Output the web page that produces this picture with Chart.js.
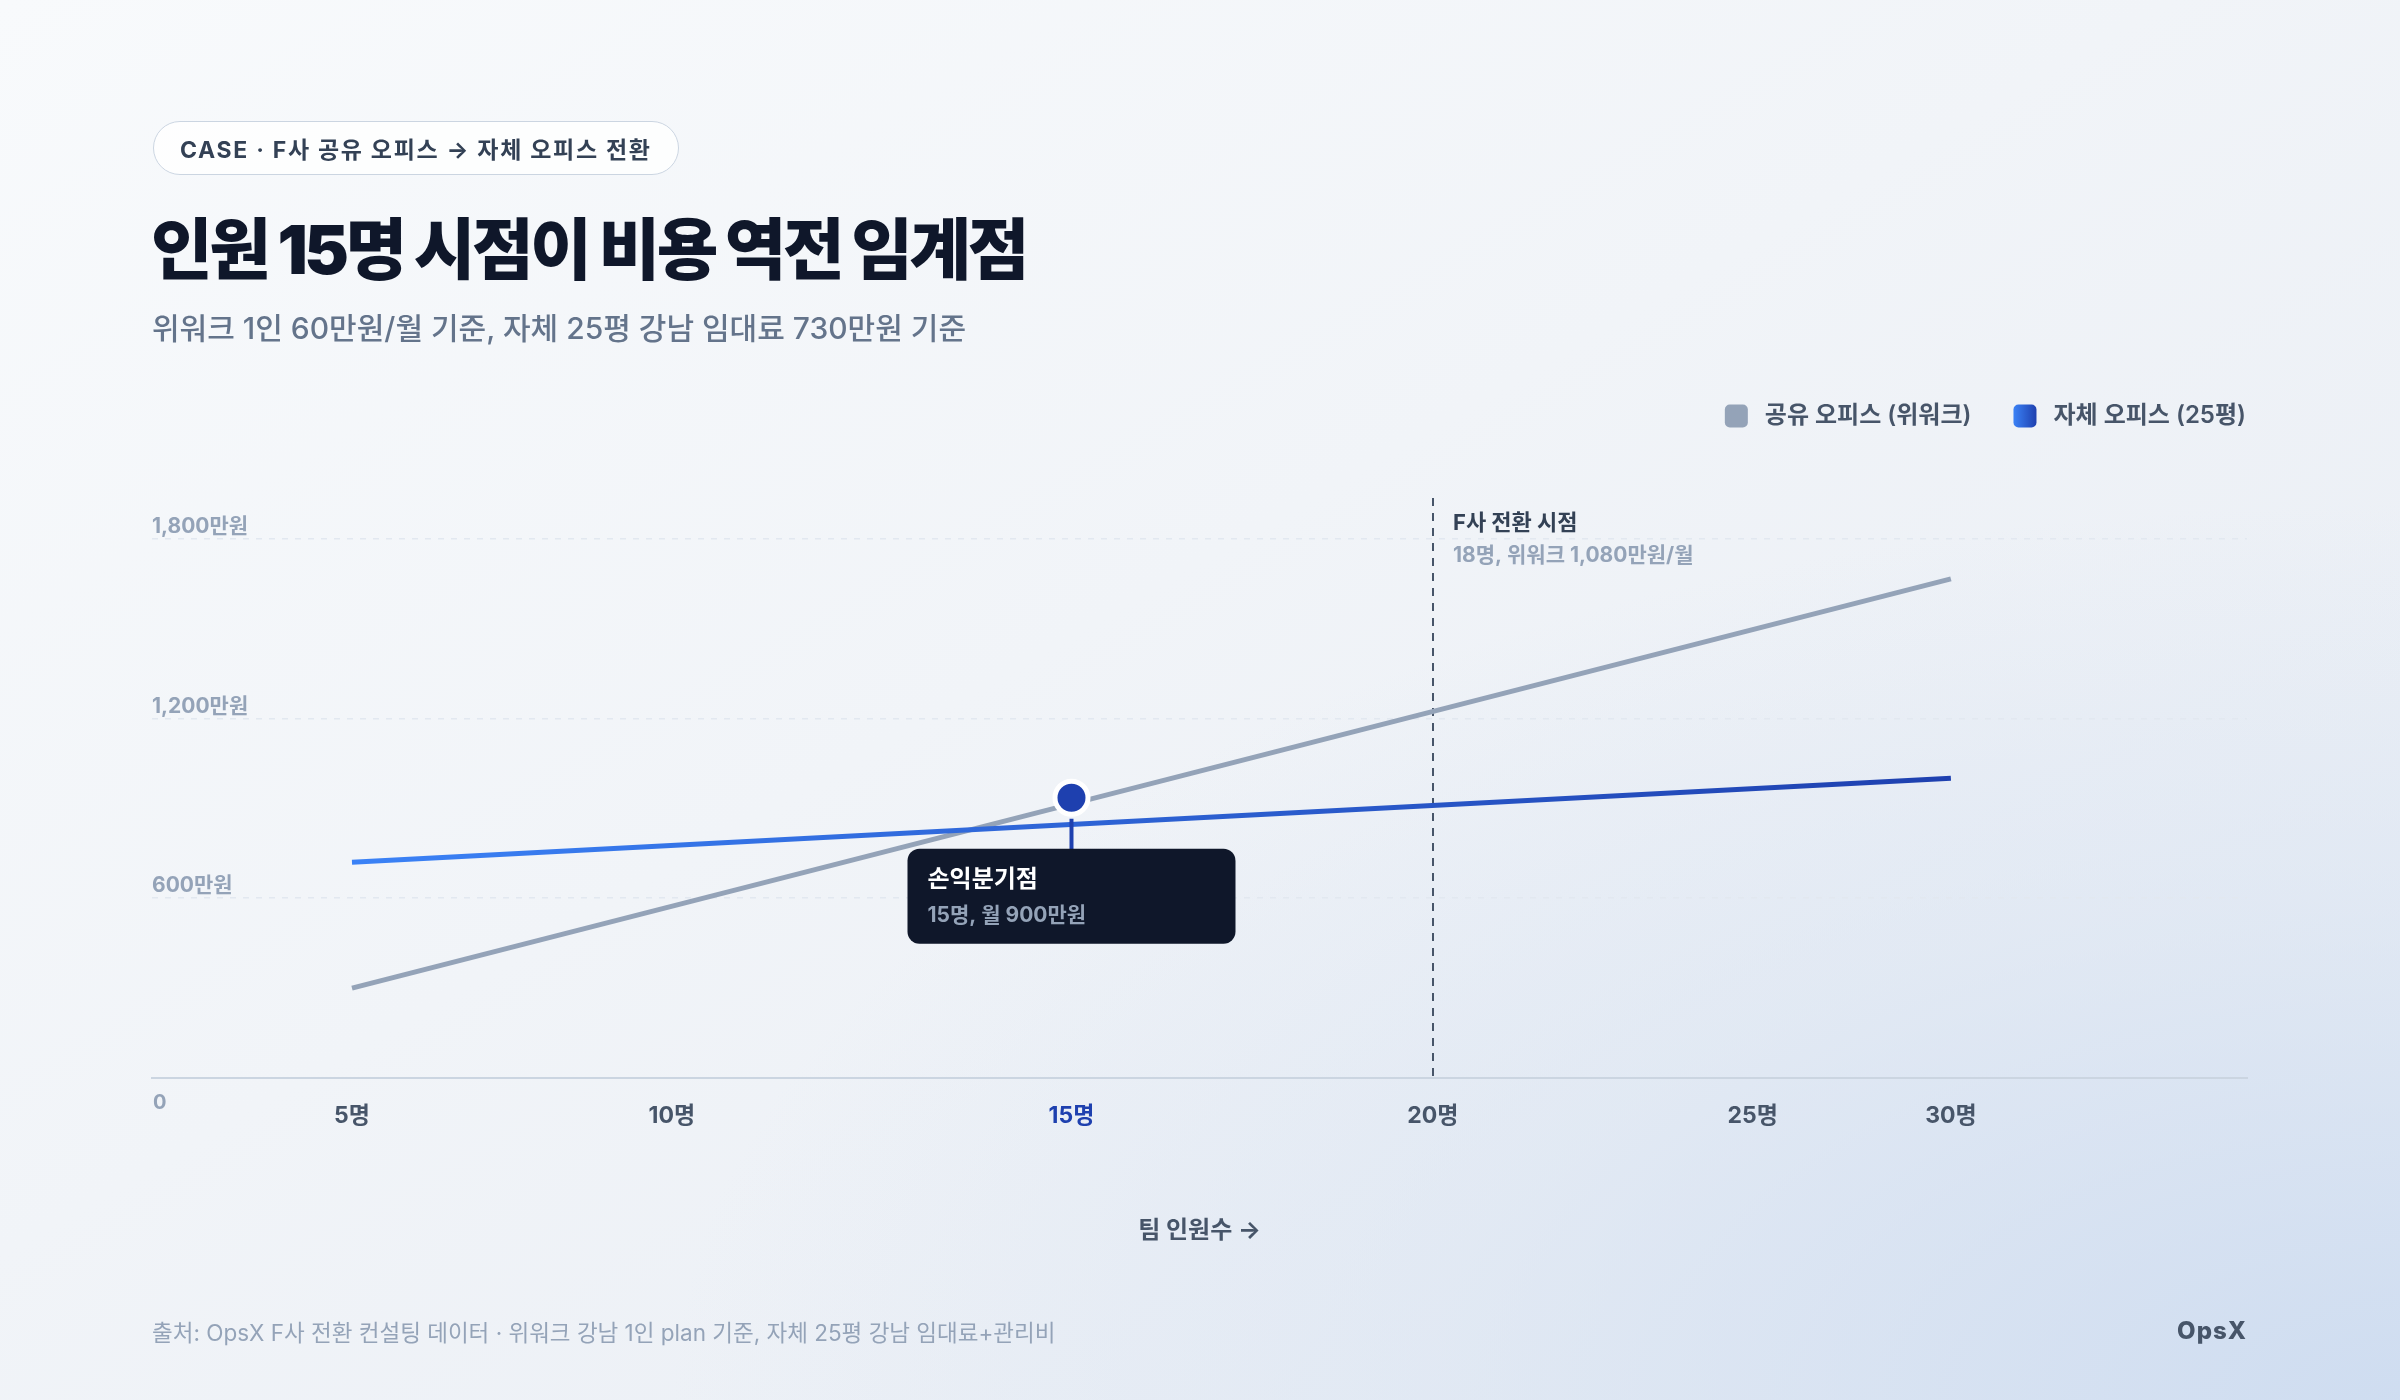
<!DOCTYPE html>
<html lang="ko">
<head>
<meta charset="utf-8">
<script src="https://cdn.jsdelivr.net/npm/chart.js@4.4.1/dist/chart.umd.min.js"></script>
<style>
  html, body { margin: 0; padding: 0; width: 2400px; height: 1400px; overflow: hidden; }
  body {
    position: relative;
    font-family: Inter, "Noto Sans CJK KR", sans-serif;
    background:
      radial-gradient(ellipse 90% 80% at 100% 100%, rgba(204,219,240,0.9) 0%, rgba(216,227,242,0.5) 45%, rgba(230,236,245,0) 80%),
      linear-gradient(150deg, #f8fafc 0%, #f1f4f8 45%, #e6ebf3 100%);
  }
  #chart { position: absolute; left: 0; top: 0; width: 2400px; height: 1400px; }
  .pill {
    position: absolute; left: 153px; top: 121px; height: 54px; box-sizing: border-box;
    padding: 0 26px; border: 1.5px solid #cbd5e1; border-radius: 27px;
    background: rgba(255,255,255,0.8); display: flex; align-items: center;
    font-size: 23px; font-weight: 700; color: #334155; letter-spacing: 1.7px; white-space: nowrap;
  }
  h1 {
    position: absolute; left: 151px; top: 216px; margin: 0; line-height: 1;
    font-size: 67px; font-weight: 900; color: #0f172a; letter-spacing: -3.4px; white-space: nowrap;
  }
  .sub {
    position: absolute; left: 152px; top: 313px; font-size: 30px; font-weight: 500;
    color: #64748b; white-space: nowrap; line-height: 1;
  }
  .foot {
    position: absolute; left: 152px; top: 1319px; font-size: 22.5px; color: #94a3b8;
    white-space: nowrap; line-height: 1.2;
  }
  .brand {
    position: absolute; right: 153px; top: 1317px; font-size: 24px; font-weight: 800;
    color: #475569; letter-spacing: 1px; line-height: 1.2;
  }
</style>
</head>
<body>
<canvas id="chart" width="2400" height="1400"></canvas>
<div class="pill">CASE · F사 공유 오피스 → 자체 오피스 전환</div>
<h1>인원 15명 시점이 비용 역전 임계점</h1>
<div class="sub">위워크 1인 60만원/월 기준, 자체 25평 강남 임대료 730만원 기준</div>
<div class="foot">출처: OpsX F사 전환 컨설팅 데이터 · 위워크 강남 1인 plan 기준, 자체 25평 강남 임대료+관리비</div>
<div class="brand">OpsX</div>
<script>
// ---- data ----
const seriesNames = ['공유 오피스 (위워크)', '자체 오피스 (25평)'];
const headcount = [5, 30];                       // line endpoints (명)
const sharedOfficeCost = [300, 1665];            // 만원/월
const ownOfficeCost = [720, 1000];               // 만원/월
const xTickValues = [5, 10, 16.25, 21.9, 26.9, 30];
const xTickLabels = ['5명', '10명', '15명', '20명', '25명', '30명'];
const yTickValues = [0, 600, 1200, 1800];
const yTickLabels = ['0', '600만원', '1,200만원', '1,800만원'];
const breakEvenPoint = [16.25, 935];
const breakEvenText = ['손익분기점', '15명, 월 900만원'];
const switchX = 21.9;
const switchText = ['F사 전환 시점', '18명, 위워크 1,080만원/월'];
const xAxisTitle = '팀 인원수 →';

const FONT = 'Inter, "Noto Sans CJK KR", sans-serif';
Chart.defaults.font.family = FONT;

function blueGradient(context) {
  const chart = context.chart;
  const { ctx, chartArea, scales } = chart;
  if (!chartArea) return '#2563eb';
  const x0 = scales.x.getPixelForValue(headcount[0]);
  const x1 = scales.x.getPixelForValue(headcount[headcount.length - 1]);
  const g = ctx.createLinearGradient(x0, 0, x1, 0);
  g.addColorStop(0, '#3b82f6');
  g.addColorStop(1, '#1e40af');
  return g;
}

const LEGEND_SHIFT = 41;
const SWATCH = 23;

const layoutTweaks = {
  id: 'layoutTweaks',
  afterInit(chart) {
    const lg = chart.legend;
    const fit = lg.fit;
    lg.fit = function () { fit.call(this); this.height = 136; };
    const draw = lg.draw;
    lg.draw = function () {
      const c = this.ctx;
      c.save(); c.translate(LEGEND_SHIFT, 0); draw.call(this);
      const lo = this.options.labels;
      this.legendHitBoxes.forEach((hb, i) => {
        const top = hb.top + Math.max((lo.font.size - SWATCH) / 2, 0);
        let fill = '#94a3b8';
        if (i === 1) {
          fill = c.createLinearGradient(hb.left, 0, hb.left + SWATCH, 0);
          fill.addColorStop(0, '#3b82f6'); fill.addColorStop(1, '#1e40af');
        }
        c.fillStyle = fill;
        c.beginPath(); c.roundRect(hb.left, top, SWATCH, SWATCH, 5); c.fill();
      });
      c.restore();
    };
  }
};

const annotations = {
  id: 'annotations',
  beforeDatasetsDraw(chart) {
    const { ctx, chartArea, scales } = chart;
    const x = Math.round(scales.x.getPixelForValue(switchX));
    ctx.save();
    ctx.strokeStyle = '#475569';
    ctx.lineWidth = 2;
    ctx.setLineDash([8, 7]);
    ctx.beginPath(); ctx.moveTo(x, chartArea.top); ctx.lineTo(x, chartArea.bottom); ctx.stroke();
    ctx.setLineDash([]);
    ctx.textAlign = 'left'; ctx.textBaseline = 'middle';
    ctx.fillStyle = '#334155';
    ctx.font = '700 22px ' + FONT;
    ctx.fillText(switchText[0], x + 20, chartArea.top + 25);
    ctx.fillStyle = '#94a3b8';
    ctx.font = '700 21px ' + FONT;
    ctx.fillText(switchText[1], x + 20, chartArea.top + 58);
    ctx.restore();
  },
  afterDatasetsDraw(chart) {
    const { ctx, scales, chartArea } = chart;
    const px = scales.x.getPixelForValue(breakEvenPoint[0]);
    const py = scales.y.getPixelForValue(breakEvenPoint[1]);
    ctx.save();
    ctx.strokeStyle = '#1e40af'; ctx.lineWidth = 4;
    ctx.beginPath(); ctx.moveTo(px, py + 21); ctx.lineTo(px, py + 52); ctx.stroke();
    const bx = px - 164, by = py + 51, bw = 328, bh = 95;
    ctx.fillStyle = '#0f172a';
    ctx.beginPath(); ctx.roundRect(bx, by, bw, bh, 12); ctx.fill();
    ctx.textAlign = 'left'; ctx.textBaseline = 'middle';
    ctx.fillStyle = '#ffffff'; ctx.font = '700 24px ' + FONT;
    ctx.fillText(breakEvenText[0], bx + 20, by + 31);
    ctx.fillStyle = '#94a3b8'; ctx.font = '700 21px ' + FONT;
    ctx.fillText(breakEvenText[1], bx + 20, by + 67);
    ctx.fillStyle = '#94a3b8'; ctx.font = '700 20px ' + FONT;
    ctx.fillText(yTickLabels[0], chartArea.left + 1, chartArea.bottom + 25);
    ctx.restore();
  }
};

new Chart(document.getElementById('chart'), {
  type: 'line',
  data: {
    datasets: [
      {
        label: 'break-even',
        data: [{ x: breakEvenPoint[0], y: breakEvenPoint[1] }],
        showLine: false,
        pointRadius: 16.5,
        pointHoverRadius: 16.5,
        pointBackgroundColor: '#1e40af',
        pointBorderColor: '#ffffff',
        pointBorderWidth: 5,
        order: 0
      },
      {
        label: seriesNames[0],
        data: headcount.map((h, i) => ({ x: h, y: sharedOfficeCost[i] })),
        borderColor: '#94a3b8',
        backgroundColor: '#94a3b8',
        borderWidth: 5,
        pointRadius: 0,
        tension: 0,
        order: 2
      },
      {
        label: seriesNames[1],
        data: headcount.map((h, i) => ({ x: h, y: ownOfficeCost[i] })),
        borderColor: blueGradient,
        backgroundColor: '#2563eb',
        borderWidth: 5,
        pointRadius: 0,
        tension: 0,
        order: 1
      }
    ]
  },
  options: {
    responsive: false,
    animation: false,
    devicePixelRatio: 1,
    layout: { padding: { left: 152, right: 153, top: 362, bottom: 140 } },
    plugins: {
      tooltip: { enabled: false },
      legend: {
        position: 'top',
        align: 'end',
        labels: {
          boxWidth: 28,
          boxHeight: 23,
          padding: 42,
          color: '#475569',
          font: { size: 24, weight: '600' },
          filter: (item) => item.datasetIndex !== 0,
          sort: (a, b) => a.datasetIndex - b.datasetIndex,
          generateLabels(chart) {
            const items = Chart.defaults.plugins.legend.labels.generateLabels(chart);
            items.forEach(it => { it.lineWidth = 0; it.strokeStyle = 'rgba(0,0,0,0)'; it.fillStyle = 'rgba(0,0,0,0)'; });
            return items;
          }
        }
      }
    },
    scales: {
      x: {
        type: 'linear',
        min: 1.873,
        max: 34.63,
        afterBuildTicks(scale) { scale.ticks = xTickValues.map(v => ({ value: v })); },
        afterFit(scale) { scale.height = 182; },
        grid: { drawOnChartArea: false, drawTicks: false },
        border: { display: true, color: '#cbd5e1', width: 2 },
        ticks: {
          autoSkip: false,
          maxRotation: 0,
          padding: 24,
          font: { size: 23, weight: '700' },
          color: (ctx) => ctx.index === 2 ? '#1e40af' : '#475569',
          callback: (v, i) => xTickLabels[i]
        },
        title: {
          display: true,
          text: xAxisTitle,
          color: '#475569',
          font: { size: 24, weight: '700' },
          padding: { top: 0, bottom: 15 }
        }
      },
      y: {
        type: 'linear',
        min: 0,
        max: 1935,
        afterBuildTicks(scale) { scale.ticks = yTickValues.map(v => ({ value: v })); },
        afterFit(scale) { scale.width = 0; },
        grid: {
          drawTicks: false,
          lineWidth: 1.5,
          color: (ctx) => ctx.tick && ctx.tick.value === 0 ? 'rgba(0,0,0,0)' : '#e2e8f0'
        },
        border: { display: false, dash: [6, 7] },
        ticks: {
          mirror: true,
          padding: 0,
          labelOffset: -12,
          font: { size: 21, weight: '700' },
          color: '#94a3b8',
          callback: (v) => { const i = yTickValues.indexOf(v); return v === 0 ? '' : yTickLabels[i]; }
        }
      }
    }
  },
  plugins: [layoutTweaks, annotations]
});
</script>
</body>
</html>
